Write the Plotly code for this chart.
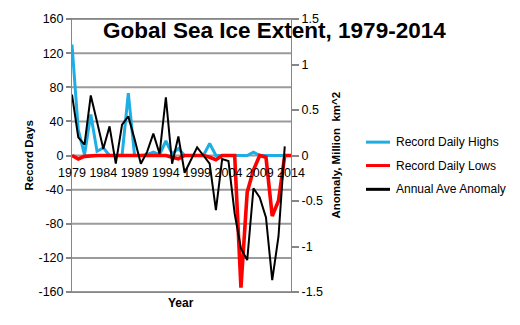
import plotly.graph_objects as go

# ---- data -------------------------------------------------------------
years = list(range(1979, 2015))

record_daily_highs = [130, 30, 1, 48, 5, 9, 0, 0, 0, 73,
                      0, 0, 1, 4, 1, 17, 2, 8, 0, 0,
                      0, 0, 14, 0, 0, 0, 0, 0, 0, 4,
                      0, 0, 0, 0, 0, 0]

record_daily_lows = [0, -4, -1, 0, 0, 0, 0, 0, 0, 0,
                     0, 0, 0, 0, 0, 0, -2, -4, 0, 0,
                     0, 0, -2, -5, 0, 0, 0, -155, -43, -17,
                     0, -2, -71, -53, 0, 0]

# annual average anomaly (million km^2), 1979-2013
annual_ave_anomaly = [0.67, 0.20, 0.12, 0.66, 0.37, 0.075, 0.32, -0.09, 0.34, 0.43,
                      0.18, -0.09, 0.04, 0.24, 0.02, 0.64, -0.09, 0.21, -0.19, -0.05,
                      0.09, 0.00, -0.09, -0.60, -0.04, -0.06, -0.64, -1.02, -1.15, -0.36,
                      -0.46, -0.68, -1.37, -0.89, 0.10]

left_ticks = [160, 120, 80, 40, 0, -40, -80, -120, -160]
left_labels = ["160", "120", "80", "40", "0", "-40", "-80", "-120", "-160"]
right_ticks = [1.5, 1, 0.5, 0, -0.5, -1, -1.5]
right_labels = ["1.5", "1", "0.5", "0", "-0.5", "-1", "-1.5"]
x_ticks = [1979, 1984, 1989, 1994, 1999, 2004, 2009, 2014]

series_names = ["Record Daily Highs", "Record Daily Lows", "Annual Ave Anomaly"]
series_colors = ["#1EAEE4", "#FF0000", "#000000"]

# ---- layout geometry (pixels) -----------------------------------------
FIG_W, FIG_H = 520, 325
M_L, M_R, M_T, M_B = 72, 229, 12, 33
PW, PH = FIG_W - M_L - M_R, FIG_H - M_T - M_B
GRID = "#868686"
FONT = "Liberation Sans"


def px(x):
    return (x - M_L) / PW


def py(y):
    return (FIG_H - M_B - y) / PH


fig = go.Figure()

# horizontal gridlines on the Record Days scale, drawn under the series
for v in left_ticks:
    fig.add_shape(type="line", xref="paper", yref="y", x0=0, x1=1, y0=v, y1=v,
                  line=dict(color="#9A9A9A", width=2), layer="below")

fig.add_trace(go.Scatter(x=years, y=record_daily_highs, mode="lines",
                         name=series_names[0],
                         line=dict(color=series_colors[0], width=3),
                         xaxis="x", yaxis="y"))
fig.add_trace(go.Scatter(x=years, y=record_daily_lows, mode="lines",
                         name=series_names[1],
                         line=dict(color=series_colors[1], width=3.6),
                         xaxis="x", yaxis="y"))
fig.add_trace(go.Scatter(x=years[:len(annual_ave_anomaly)], y=annual_ave_anomaly,
                         mode="lines", name=series_names[2],
                         line=dict(color=series_colors[2], width=2),
                         xaxis="x", yaxis="y2"))

fig.update_layout(
    width=FIG_W, height=FIG_H,
    margin=dict(l=M_L, r=M_R, t=M_T, b=M_B, pad=0),
    paper_bgcolor="white", plot_bgcolor="rgba(0,0,0,0)",
    showlegend=False,
    font=dict(family=FONT, size=12, color="#000000"),
    xaxis=dict(range=[1979, 2014], showticklabels=False, ticks="",
               showgrid=False, zeroline=False,
               showline=True, linecolor=GRID, linewidth=1, mirror=True),
    # year labels sit on the zero line, as in the original chart
    xaxis2=dict(range=[1979, 2014], overlaying="x", anchor="free", position=0.5,
                side="bottom", tickvals=x_ticks,
                ticktext=[str(v) for v in x_ticks],
                showgrid=False, zeroline=False, showline=False,
                ticks="outside", ticklen=5, tickcolor="rgba(0,0,0,0)",
                tickfont=dict(family=FONT, size=12.5)),
    yaxis=dict(range=[-160, 160], tickvals=left_ticks, ticktext=left_labels,
               showgrid=False, zeroline=False,
               showline=True, linecolor=GRID, linewidth=1,
               ticks="outside", ticklen=5, tickcolor=GRID, tickwidth=2,
               tickfont=dict(family=FONT, size=12.5)),
    yaxis2=dict(range=[-1.5, 1.5], tickvals=right_ticks, ticktext=right_labels,
                overlaying="y", side="right", anchor="x",
                showgrid=False, zeroline=False,
                showline=True, linecolor=GRID, linewidth=1,
                ticks="outside", ticklen=7, tickcolor=GRID, tickwidth=2,
                tickfont=dict(family=FONT, size=12.5)),
)

# invisible carrier so the year-label axis is laid out
fig.add_trace(go.Scatter(x=[years[0], years[-1]], y=[0, 0], mode="lines",
                         line=dict(width=0), hoverinfo="skip",
                         showlegend=False, xaxis="x2", yaxis="y"))

# titles
fig.add_annotation(text="<b>Gobal Sea Ice Extent, 1979-2014</b>",
                   xref="paper", yref="paper", x=px(274), y=py(24),
                   xanchor="center", yanchor="middle", showarrow=False,
                   font=dict(family=FONT, size=22.5, color="#000000"))
fig.add_annotation(text="<b>Record Days</b>", textangle=-90,
                   xref="paper", yref="paper", x=px(28), y=py(152),
                   xanchor="center", yanchor="middle", showarrow=False,
                   font=dict(family=FONT, size=11.5))
fig.add_annotation(text="<b>Anomaly, Million  km^2</b>", textangle=-90,
                   xref="paper", yref="paper", x=px(335), y=py(152),
                   xanchor="center", yanchor="middle", showarrow=False,
                   font=dict(family=FONT, size=11.5))
fig.add_annotation(text="<b>Year</b>",
                   xref="paper", yref="paper", x=px(181), y=py(303),
                   xanchor="center", yanchor="middle", showarrow=False,
                   font=dict(family=FONT, size=12))

# legend
legend_rows = [138.3, 162.3, 186.7]
for name, color, row in zip(series_names, series_colors, legend_rows):
    fig.add_shape(type="line", xref="paper", yref="paper",
                  x0=px(366), x1=px(390), y0=py(row), y1=py(row),
                  line=dict(color=color, width=3))
    fig.add_annotation(text=name, xref="paper", yref="paper",
                       x=px(394), y=py(row), xanchor="left", yanchor="middle",
                       showarrow=False, font=dict(family=FONT, size=12))

fig.write_html("out.html")
